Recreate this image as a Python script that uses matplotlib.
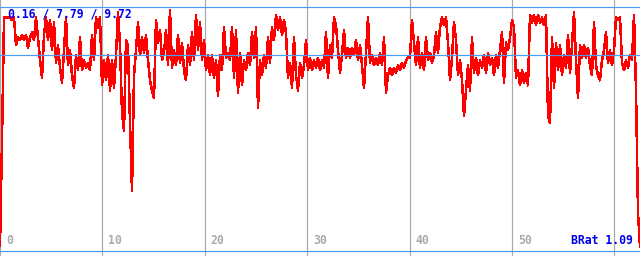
import numpy as np
import matplotlib
matplotlib.use("Agg")
import matplotlib.pyplot as plt

# series values (one sample every ~0.195 time units)
values = [
    0.2, 4.4, 9.3, 9.3, 9.3, 9.3, 9.2, 9.3, 8.2, 8.5, 8.4, 8.6, 8.4, 8.6, 8.1, 8.5, 8.7, 8.4, 9.3, 8.5,
    7.6, 6.9, 8.6, 9.3, 8.4, 9.2, 8.0, 9.1, 7.5, 8.2, 7.3, 6.7, 8.0, 9.3, 7.4, 8.0, 7.0, 6.5, 7.8, 7.2,
    8.5, 7.2, 7.6, 7.3, 7.5, 7.2, 8.6, 7.6, 9.3, 8.9, 9.3, 6.6, 7.6, 6.8, 7.8, 6.4, 7.6, 6.5, 7.8, 9.5,
    8.2, 5.5, 4.8, 8.4, 8.2, 5.1, 2.4, 7.0, 8.0, 9.1, 7.8, 8.5, 7.9, 8.6, 7.6, 6.8, 6.4, 6.1, 9.2, 8.3,
    8.8, 7.6, 7.9, 8.8, 7.4, 9.6, 7.3, 8.0, 7.4, 8.6, 7.5, 8.3, 7.2, 6.8, 8.2, 7.4, 8.7, 7.6, 9.4, 8.0,
    9.1, 7.6, 8.4, 7.2, 7.8, 7.0, 7.8, 6.9, 7.6, 6.2, 7.8, 7.2, 8.9, 7.7, 7.9, 7.6, 8.9, 6.9, 8.8, 6.3,
    7.9, 6.6, 7.6, 7.2, 7.9, 7.4, 8.7, 7.7, 8.9, 5.7, 7.6, 7.0, 7.8, 7.3, 8.5, 7.5, 8.9, 8.4, 9.4, 8.8,
    9.3, 8.6, 9.2, 8.7, 6.9, 7.5, 6.5, 8.5, 7.0, 6.4, 7.5, 6.9, 7.4, 8.4, 7.2, 7.7, 7.2, 7.6, 7.3, 7.7,
    7.2, 7.6, 7.3, 8.7, 6.9, 8.2, 7.7, 9.3, 9.0, 8.0, 7.1, 7.8, 8.8, 7.7, 8.1, 7.7, 8.1, 7.8, 8.4, 7.6,
    8.2, 7.4, 6.5, 7.9, 9.3, 7.5, 7.8, 7.4, 7.7, 7.4, 7.9, 7.4, 8.5, 6.3, 7.0, 7.3, 7.0, 7.3, 7.1, 7.4,
    7.2, 7.5, 7.3, 7.6, 7.7, 7.7, 9.2, 8.3, 7.4, 8.5, 7.3, 7.9, 7.2, 8.5, 7.6, 7.9, 7.5, 7.8, 8.7, 7.9,
    8.9, 9.3, 9.0, 9.3, 8.3, 6.8, 7.7, 9.1, 8.4, 7.0, 7.6, 6.8, 5.4, 6.4, 7.4, 6.4, 8.5, 7.1, 7.7, 7.0,
    7.6, 7.3, 7.8, 7.1, 7.9, 7.4, 7.7, 7.0, 7.8, 7.3, 8.0, 8.7, 6.7, 8.3, 8.0, 8.5, 9.2, 8.9, 6.9, 7.2,
    6.6, 7.2, 6.7, 7.1, 6.6, 9.4, 9.1, 9.4, 9.0, 9.4, 9.1, 9.3, 9.0, 9.4, 5.4, 5.1, 8.5, 6.5, 8.3, 7.2,
    8.2, 7.0, 7.8, 7.3, 8.6, 7.1, 8.2, 9.5, 7.6, 6.1, 8.2, 7.7, 8.2, 7.7, 8.1, 7.4, 7.0, 9.1, 7.4, 7.0,
    6.8, 7.6, 8.0, 8.7, 7.5, 8.0, 7.4, 8.0, 9.3, 9.2, 9.3, 7.5, 7.2, 7.6, 7.3, 7.8, 7.6, 9.4, 6.4, 1.5,
    0.16,
]
sample_step = 2 / 10.24          # time units per sample
x_ticks = [0, 10, 20, 30, 40, 50, 60]
x_tick_labels = ["0", "10", "20", "30", "40", "50", ""]
ref_lines = [0.0, 7.79, 9.72]    # zero / average / max
stats_text = "0.16 / 7.79 / 9.72"
corner_text = "BRat 1.09"

RED = "#ff0000"
BLUE_LINE = "#4e9cf0"
GRID = "#aaaaaa"
TEXT_BLUE = "#0000ee"

fig = plt.figure(figsize=(640 / 72, 256 / 72), dpi=72)
ax = fig.add_axes([0, 0, 1, 1])
ax.set_xlim(0, 62.5)
ax.set_ylim(-0.2, 10.0)
ax.axis("off")

for t in x_ticks:
    ax.axvline(t, color=GRID, lw=1.2, zorder=1, snap=True)

t_vals = np.arange(len(values)) * sample_step
ax.plot(t_vals, values, color=RED, lw=1.5, zorder=2, antialiased=False)

for v in ref_lines:
    ax.axhline(v, color=BLUE_LINE, lw=1.2, zorder=3, snap=True)

mono = dict(family="DejaVu Sans Mono", fontsize=11.5, fontweight="bold")
for t, lab in zip(x_ticks, x_tick_labels):
    ax.annotate(lab, xy=(t, 0), xycoords=("data", "axes fraction"),
                xytext=(6, 15), textcoords="offset points",
                ha="left", va="center", color=GRID, zorder=4, **mono)

fig.text(8 / 640, 1 - 14 / 256, stats_text, ha="left", va="center",
         color=TEXT_BLUE, zorder=5, **mono)
fig.text(633 / 640, 15 / 256, corner_text, ha="right", va="center",
         color=TEXT_BLUE, zorder=5, **mono)

fig.savefig("out.png", dpi=72, facecolor="white")
